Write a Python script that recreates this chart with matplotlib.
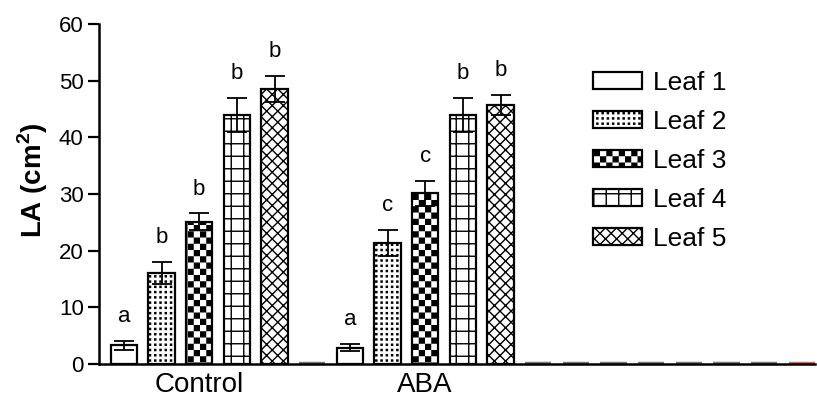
import numpy as np
import matplotlib
matplotlib.use('Agg')
import matplotlib.pyplot as plt
from matplotlib import hatch as mhatch
from matplotlib.path import Path
from matplotlib.patches import Patch

# --- Data ---
groups = ['Control', 'ABA']
leaves = ['Leaf 1', 'Leaf 2', 'Leaf 3', 'Leaf 4', 'Leaf 5']
control_mean = [3.3, 16.1, 25.1, 44.0, 48.6]
control_err = [0.8, 1.9, 1.5, 3.0, 2.3]
aba_mean = [2.9, 21.4, 30.1, 44.0, 45.7]
aba_err = [0.6, 2.3, 2.2, 3.0, 1.8]
control_letters = ['a', 'b', 'b', 'b', 'b']
aba_letters = ['a', 'c', 'c', 'b', 'b']
yticks = [0, 10, 20, 30, 40, 50, 60]

# --- Layout / style ---
N_SLOTS = 19          # bar slots along the x axis (GraphPad style, empty ones drawn flat)
GROUP_START = [0, 6]  # first slot of each group
BAR_W = 0.7
HATCHES = ['', '.', '*', '+', 'xxx']
LETTER_PAD = 3.3

plt.rcParams['font.family'] = ['Liberation Sans', 'DejaVu Sans']
plt.rcParams['mathtext.fontset'] = 'custom'
plt.rcParams['mathtext.rm'] = 'Liberation Sans'
plt.rcParams['mathtext.bf'] = 'Liberation Sans:bold'
plt.rcParams['hatch.linewidth'] = 1.0


# --- custom hatch patterns (tile is 1 inch = 100 px at dpi 100) ---
E = 0.007  # shrink filled shapes so the hatch stroke brings them back to size


def _square(x0, y0, x1, y1):
    return [(x0, y0), (x1, y0), (x1, y1), (x0, y1), (x0, y0)]


SQ_CODES = [Path.MOVETO, Path.LINETO, Path.LINETO, Path.LINETO, Path.CLOSEPOLY]


class CheckerHatch(mhatch.HatchPatternBase):
    filled = True

    def __init__(self, hatch, density):
        self.n = 16 if '*' in hatch else 0
        self.num_vertices = (self.n * self.n // 2) * 5

    def set_vertices_and_codes(self, vertices, codes):
        s = 1.0 / self.n
        k = 0
        for i in range(self.n):
            for j in range(self.n):
                if (i + j) % 2:
                    continue
                vertices[k:k + 5] = _square(i * s + E, j * s + E,
                                            (i + 1) * s - E, (j + 1) * s - E)
                codes[k:k + 5] = SQ_CODES
                k += 5


class DotHatch(mhatch.HatchPatternBase):
    filled = True

    def __init__(self, hatch, density):
        self.n = 19 if '.' in hatch else 0
        self.num_vertices = self.n * self.n * 5

    def set_vertices_and_codes(self, vertices, codes):
        s = 1.0 / self.n
        h = 0.0055
        k = 0
        for i in range(self.n):
            for j in range(self.n):
                cx, cy = (i + 0.5) * s, (j + 0.5) * s
                vertices[k:k + 5] = _square(cx - h, cy - h, cx + h, cy + h)
                codes[k:k + 5] = SQ_CODES
                k += 5


class GridHatch(mhatch.HatchPatternBase):
    def __init__(self, hatch, density):
        self.n = 8 if '+' in hatch else 0
        self.num_vertices = self.n * 4

    def set_vertices_and_codes(self, vertices, codes):
        pos = (np.arange(self.n) + 0.5) / self.n
        k = 0
        for p in pos:
            vertices[k:k + 4] = [(0, p), (1, p), (p, 0), (p, 1)]
            codes[k:k + 4] = [Path.MOVETO, Path.LINETO, Path.MOVETO, Path.LINETO]
            k += 4


mhatch._hatch_types = [CheckerHatch, DotHatch, GridHatch,
                       mhatch.NorthEastHatch, mhatch.SouthEastHatch]

# --- Plot ---
fig = plt.figure(figsize=(8.17, 4.0), dpi=100)
ax = fig.add_axes([99 / 817, 36 / 400, 716 / 817, 340 / 400])

means = [control_mean, aba_mean]
errs = [control_err, aba_err]
letters = [control_letters, aba_letters]

used = []
for g in range(len(groups)):
    x = np.arange(len(leaves)) + GROUP_START[g]
    used.extend(x)
    for i in range(len(leaves)):
        ax.bar(x[i], means[g][i], width=BAR_W, color='white', edgecolor='black',
               linewidth=1.6, hatch=HATCHES[i], zorder=2)
    ax.errorbar(x, means[g], yerr=errs[g], fmt='none', ecolor='black',
                elinewidth=1.3, capsize=7.5, capthick=1.3, zorder=3)
    for i in range(len(leaves)):
        ax.text(x[i], means[g][i] + errs[g][i] + LETTER_PAD, letters[g][i],
                ha='center', va='baseline', fontsize=16)

empty = [s for s in range(N_SLOTS) if s not in used]
for s in empty:
    col = '#c07070' if s == N_SLOTS - 1 else '#777777'
    ax.bar(s, 0, width=BAR_W, color='none', edgecolor=col, linewidth=3.2, zorder=1)

ax.set_xlim(-0.66, N_SLOTS - 1 + 0.35)
ax.set_ylim(0, 60)
ax.set_yticks(yticks)
ax.set_xticks([GROUP_START[g] + 2 for g in range(len(groups))])
ax.set_xticklabels(groups, fontsize=20)
ax.tick_params(axis='x', length=0, pad=5.5)
ax.tick_params(axis='y', length=8, width=1.6, labelsize=16, pad=3)
for side in ['top', 'right']:
    ax.spines[side].set_visible(False)
for side in ['left', 'bottom']:
    ax.spines[side].set_linewidth(1.8)
    ax.spines[side].set_zorder(1.5)

ax.set_ylabel(r'LA (cm$^\mathbf{2}$)', fontsize=20, fontweight='bold')
ax.yaxis.set_label_coords(-0.068, 0.54)

handles = [Patch(facecolor='white', edgecolor='black', linewidth=1.6, hatch=h)
           for h in HATCHES]
ax.legend(handles, leaves, loc='upper left', bbox_to_anchor=(593 / 817, 1 - 71 / 400),
          bbox_transform=fig.transFigure, frameon=False, fontsize=19,
          handlelength=1.85, handleheight=0.62, handletextpad=0.42,
          labelspacing=0.57, borderpad=0, borderaxespad=0)

fig.savefig('out.png', dpi=100)
